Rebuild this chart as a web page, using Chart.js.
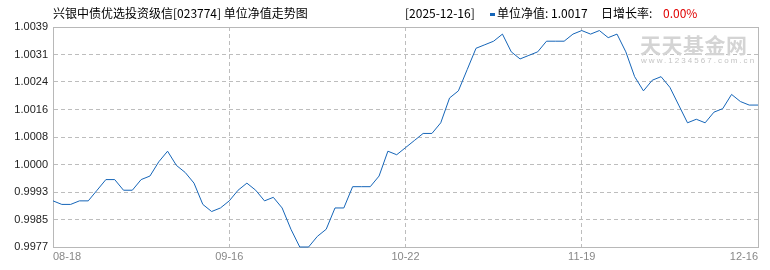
<!DOCTYPE html>
<html lang="zh-CN">
  <head>
    <meta charset="UTF-8" />
    <title>单位净值走势图</title>
    <script src="https://cdn.jsdelivr.net/npm/chart.js"></script>
    <style>
      html, body {
        margin: 0;
        padding: 0;
        background: #fff;
      }
      .wrap {
        position: relative;
        width: 770px;
        height: 270px;
        overflow: hidden;
      }
      .hd {
        position: absolute;
        top: 7px;
        font: 12px/12px "Noto Sans CJK SC", sans-serif;
        color: #000;
        white-space: nowrap;
      }
      .legend-mark {
        position: absolute;
        left: 490px;
        top: 13px;
        width: 5px;
        height: 3px;
        background: #1565b8;
      }
      .wm {
        position: absolute;
        left: 640px;
        top: 34px;
        font: bold 21px/21px "Noto Sans CJK SC", sans-serif;
        color: #d4d4d4;
        letter-spacing: 0.5px;
      }
      .wm-sub {
        position: absolute;
        left: 641px;
        top: 57px;
        font: 8px/8px "Liberation Sans", sans-serif;
        color: #c4c4c4;
        letter-spacing: 2.05px;
      }
      canvas {
        position: absolute;
        left: 0;
        top: 0;
      }
    </style>
  </head>
  <body>
    <div class="wrap">
      <canvas id="navChart" width="770" height="270"></canvas>
      <div class="hd" id="title" style="left: 53px"></div>
      <div class="hd" id="lastDate" style="left: 405px"></div>
      <div class="legend-mark"></div>
      <div class="hd" id="lastNav" style="left: 497px"></div>
      <div class="hd" style="left: 601px">日增长率:</div>
      <div class="hd" id="dayGrowth" style="left: 663px; color: #e00000"></div>
      <div class="wm">天天基金网</div>
      <div class="wm-sub">www.1234567.com.cn</div>
    </div>

    <script>
      // header info
      const fundName = "兴银中债优选投资级信";
      const fundCode = "023774";
      const lastDate = "2025-12-16";
      const lastNav = "1.0017";
      const dayGrowth = "0.00%";

      // trading days 2025-08-18 .. 2025-12-16
      const dates = [
        "08-18", "08-19", "08-20", "08-21", "08-22", "08-25", "08-26", "08-27", "08-28", "08-29",
        "09-01", "09-02", "09-03", "09-04", "09-05", "09-08", "09-09", "09-10", "09-11", "09-12",
        "09-15", "09-16", "09-17", "09-18", "09-19", "09-22", "09-23", "09-24", "09-25", "09-26",
        "09-29", "09-30", "10-09", "10-10", "10-13", "10-14", "10-15", "10-16", "10-17", "10-20",
        "10-21", "10-22", "10-23", "10-24", "10-27", "10-28", "10-29", "10-30", "10-31", "11-03",
        "11-04", "11-05", "11-06", "11-07", "11-10", "11-11", "11-12", "11-13", "11-14", "11-17",
        "11-18", "11-19", "11-20", "11-21", "11-24", "11-25", "11-26", "11-27", "11-28", "12-01",
        "12-02", "12-03", "12-04", "12-05", "12-08", "12-09", "12-10", "12-11", "12-12", "12-15",
        "12-16"
      ];

      // 单位净值
      const navValues = [
        0.9990, 0.9989, 0.9989, 0.9990, 0.9990, 0.9993, 0.9996, 0.9996, 0.9993, 0.9993,
        0.9996, 0.9997, 1.0001, 1.0004, 1.0000, 0.9998, 0.9995, 0.9989, 0.9987, 0.9988,
        0.9990, 0.9993, 0.9995, 0.9993, 0.9990, 0.9991, 0.9988, 0.9982, 0.9977, 0.9977,
        0.9980, 0.9982, 0.9988, 0.9988, 0.9994, 0.9994, 0.9994, 0.9997, 1.0004, 1.0003,
        1.0005, 1.0007, 1.0009, 1.0009, 1.0012, 1.0019, 1.0021, 1.0027, 1.0033, 1.0034,
        1.0035, 1.0037, 1.0032, 1.0030, 1.0031, 1.0032, 1.0035, 1.0035, 1.0035, 1.0037,
        1.0038, 1.0037, 1.0038, 1.0036, 1.0037, 1.0032, 1.0025, 1.0021, 1.0024, 1.0025,
        1.0022, 1.0017, 1.0012, 1.0013, 1.0012, 1.0015, 1.0016, 1.0020, 1.0018, 1.0017,
        1.0017
      ];

      const xTickLabels = ["08-18", "09-16", "10-22", "11-19", "12-16"];
      const yTickLabels = ["0.9977", "0.9985", "0.9993", "1.0000", "1.0008", "1.0016", "1.0024", "1.0031", "1.0039"];
      const yMin = 0.9977;
      const yMax = 1.0039;

      document.getElementById("title").textContent = fundName + "[" + fundCode + "] 单位净值走势图";
      document.getElementById("lastDate").textContent = "[" + lastDate + "]";
      document.getElementById("lastNav").textContent = "单位净值: " + lastNav;
      document.getElementById("dayGrowth").textContent = dayGrowth;

      const gridColor = "#bdbdbd";
      const frameColor = "#b8b8b8";
      const xStep = (dates.length - 1) / (xTickLabels.length - 1);

      // solid frame around the plot area
      const plotFrame = {
        id: "plotFrame",
        beforeDatasetsDraw(chart) {
          const { ctx, chartArea: a } = chart;
          ctx.save();
          ctx.strokeStyle = frameColor;
          ctx.lineWidth = 1;
          ctx.strokeRect(Math.round(a.left) + 0.5, Math.round(a.top) + 0.5,
            Math.round(a.right) - Math.round(a.left), Math.round(a.bottom) - Math.round(a.top));
          ctx.restore();
        },
      };

      new Chart(document.getElementById("navChart"), {
        type: "line",
        data: {
          labels: dates,
          datasets: [{
            label: "单位净值",
            data: navValues,
            borderColor: "#1565b8",
            borderWidth: 1,
            pointRadius: 0,
            tension: 0,
            fill: false,
            clip: 3,
          }],
        },
        options: {
          responsive: false,
          animation: false,
          layout: { padding: { top: 27, right: 12, left: 0, bottom: 0 } },
          plugins: {
            legend: { display: false },
            tooltip: { enabled: false },
          },
          scales: {
            x: {
              afterBuildTicks: (s) => {
                s.ticks = s.ticks.filter((t) => t.value % xStep === 0);
              },
              afterFit: (s) => {
                s.height = 23;
              },
              ticks: {
                autoSkip: false,
                maxRotation: 0,
                align: "inner",
                padding: 3,
                color: "#888",
                font: { family: "Liberation Sans, Arial, sans-serif", size: 11 },
                callback: (v, i) => xTickLabels[i],
              },
              grid: { color: gridColor, drawTicks: false },
              border: { color: frameColor, dash: [4, 3] },
            },
            y: {
              min: yMin,
              max: yMax,
              afterFit: (s) => {
                s.width = 53;
              },
              ticks: {
                count: yTickLabels.length,
                padding: 5,
                color: "#222",
                font: { family: "Liberation Sans, Arial, sans-serif", size: 11 },
                callback: (v, i) => yTickLabels[i],
              },
              grid: { color: gridColor, drawTicks: false },
              border: { color: frameColor, dash: [4, 3] },
            },
          },
        },
        plugins: [plotFrame],
      });
    </script>
  </body>
</html>
